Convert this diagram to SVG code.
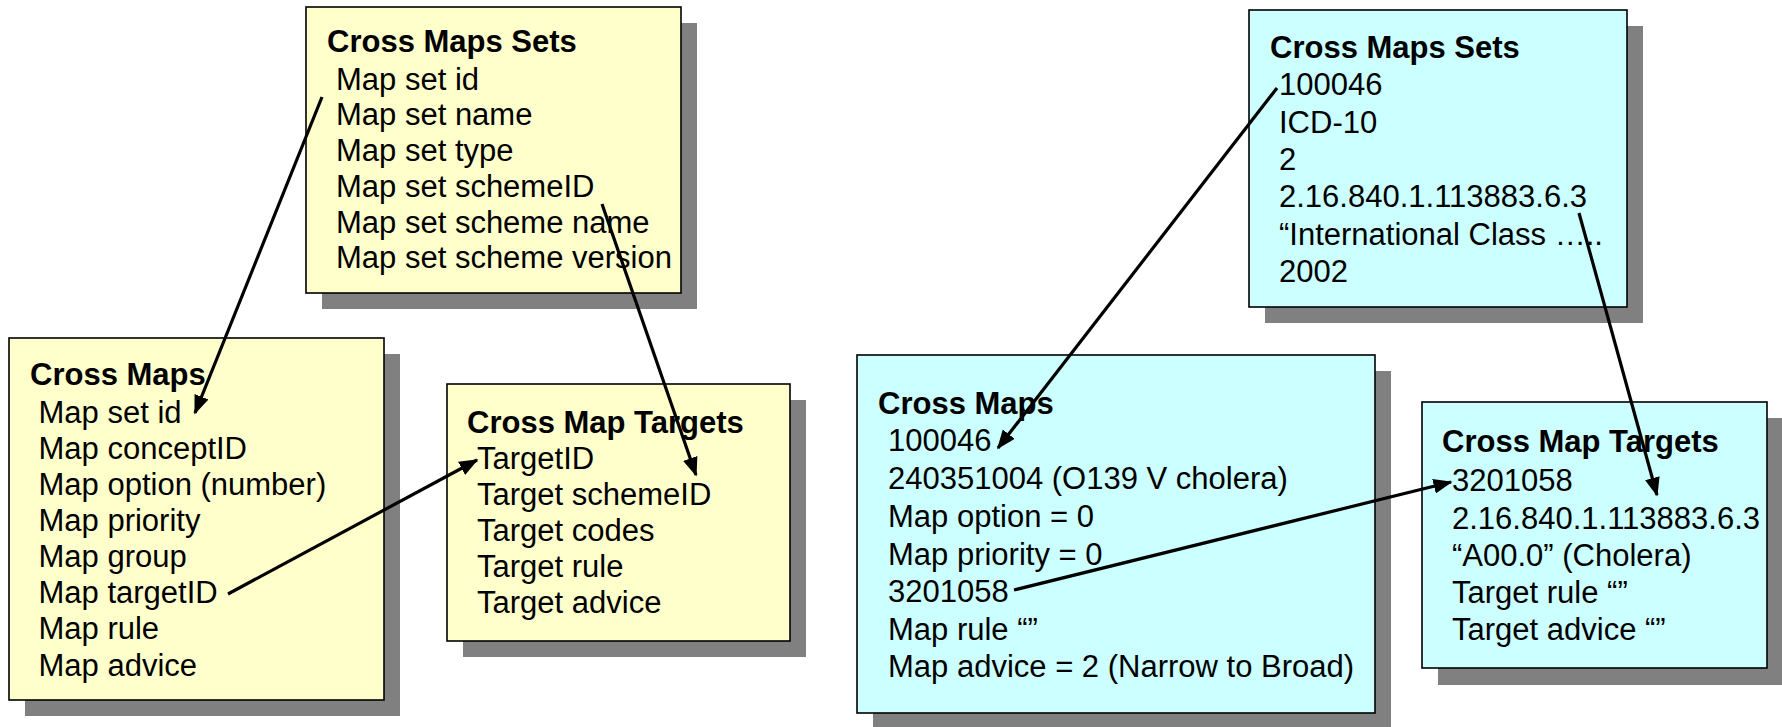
<svg xmlns="http://www.w3.org/2000/svg" width="1782" height="727" viewBox="0 0 1782 727">
<style>
.shadow{fill:#808080;stroke:none}
.y{fill:#FFFFCC;stroke:#000;stroke-width:1.6}
.c{fill:#CCFFFF;stroke:#000;stroke-width:1.6}
text{font-family:"Liberation Sans",Arial,sans-serif;font-size:31px;fill:#000}
.t{font-weight:bold}
.conn line{stroke:#000;stroke-width:3.2;fill:none;marker-end:url(#ah)}
</style>
<defs>
<marker id="ah" markerUnits="userSpaceOnUse" markerWidth="20" markerHeight="16" refX="17.5" refY="7.5" orient="auto">
<path d="M0,0 L19,7.5 L0,15 z" fill="#000"/>
</marker>
</defs>
<rect width="1782" height="727" fill="#fff"/>

<g id="yellow-cross-maps-sets">
<rect class="shadow" x="322" y="23" width="375" height="286"/>
<rect class="y" x="306" y="7" width="375" height="286"/>
<text class="t" x="327" y="52">Cross Maps Sets</text>
<text x="336" y="89.5">Map set id</text>
<text x="336" y="125.3">Map set name</text>
<text x="336" y="161">Map set type</text>
<text x="336" y="196.8">Map set schemeID</text>
<text x="336" y="232.5">Map set scheme name</text>
<text x="336" y="268.3">Map set scheme version</text>
</g>

<g id="yellow-cross-maps">
<rect class="shadow" x="25" y="354" width="375" height="362"/>
<rect class="y" x="9" y="338" width="375" height="362"/>
<text class="t" x="30" y="385">Cross Maps</text>
<text x="38.5" y="423">Map set id</text>
<text x="38.5" y="459">Map conceptID</text>
<text x="38.5" y="495">Map option (number)</text>
<text x="38.5" y="531">Map priority</text>
<text x="38.5" y="567">Map group</text>
<text x="38.5" y="603">Map targetID</text>
<text x="38.5" y="639">Map rule</text>
<text x="38.5" y="675.5">Map advice</text>
</g>

<g id="yellow-cross-map-targets">
<rect class="shadow" x="463" y="400" width="343" height="257"/>
<rect class="y" x="447" y="384" width="343" height="257"/>
<text class="t" x="467" y="433">Cross Map Targets</text>
<text x="477" y="469">TargetID</text>
<text x="477" y="505">Target schemeID</text>
<text x="477" y="541">Target codes</text>
<text x="477" y="577">Target rule</text>
<text x="477" y="613">Target advice</text>
</g>

<g id="cyan-cross-maps-sets">
<rect class="shadow" x="1265" y="26" width="378" height="297"/>
<rect class="c" x="1249" y="10" width="378" height="297"/>
<text class="t" x="1270" y="58">Cross Maps Sets</text>
<text x="1279" y="95">100046</text>
<text x="1279" y="132.5">ICD-10</text>
<text x="1279" y="170">2</text>
<text x="1279" y="207">2.16.840.1.113883.6.3</text>
<text x="1279" y="244.5">“International Class …..</text>
<text x="1279" y="282">2002</text>
</g>

<g id="cyan-cross-maps">
<rect class="shadow" x="873" y="371" width="518" height="358"/>
<rect class="c" x="857" y="355" width="518" height="358"/>
<text class="t" x="878" y="414">Cross Maps</text>
<text x="888" y="451">100046</text>
<text x="888" y="489">240351004 (O139 V cholera)</text>
<text x="888" y="527">Map option = 0</text>
<text x="888" y="564.5">Map priority = 0</text>
<text x="888" y="602">3201058</text>
<text x="888" y="639.5">Map rule “”</text>
<text x="888" y="677">Map advice = 2 (Narrow to Broad)</text>
</g>

<g id="cyan-cross-map-targets">
<rect class="shadow" x="1438" y="418" width="345" height="267"/>
<rect class="c" x="1422" y="402" width="345" height="266"/>
<text class="t" x="1442" y="452">Cross Map Targets</text>
<text x="1452" y="491">3201058</text>
<text x="1452" y="528.5">2.16.840.1.113883.6.3</text>
<text x="1452" y="566">“A00.0” (Cholera)</text>
<text x="1452" y="603">Target rule “”</text>
<text x="1452" y="640">Target advice “”</text>
</g>

<g id="connectors" class="conn">
<line x1="322" y1="97" x2="195" y2="413"/>
<line x1="602" y1="204" x2="696" y2="475"/>
<line x1="228" y1="594" x2="477" y2="460"/>
<line x1="1277" y1="88" x2="998" y2="448"/>
<line x1="1579" y1="213" x2="1657" y2="495"/>
<line x1="1014" y1="590" x2="1451" y2="482"/>
</g>
</svg>
